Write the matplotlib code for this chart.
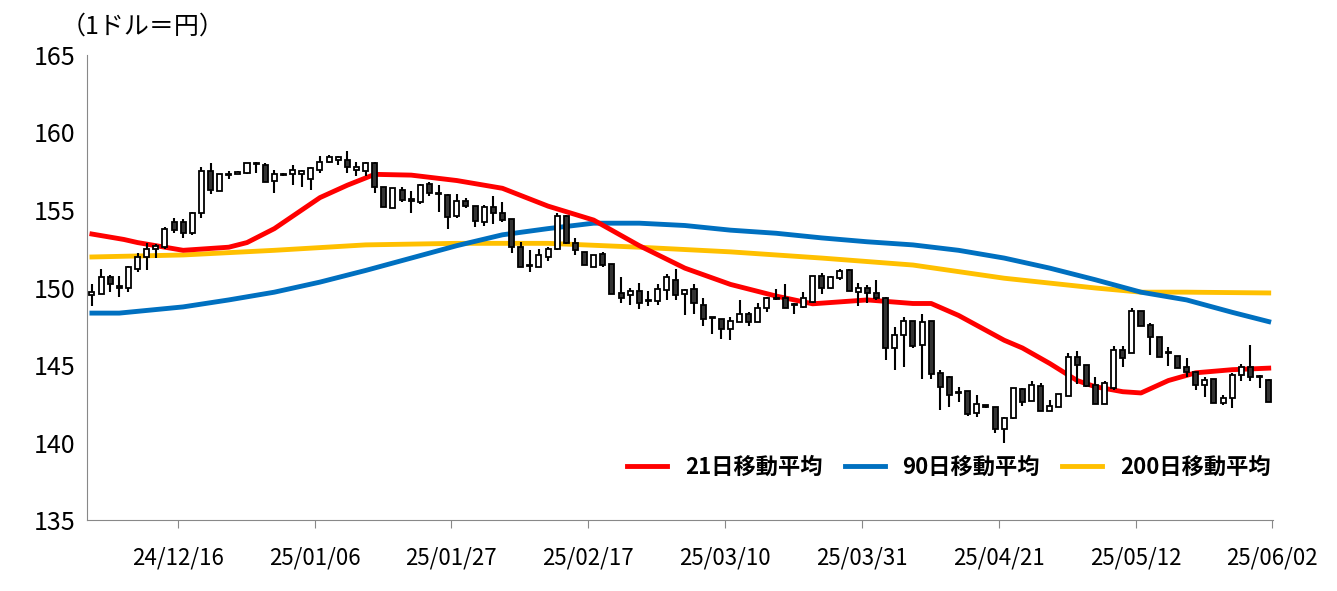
import matplotlib
matplotlib.use("Agg")
import matplotlib.pyplot as plt
import numpy as np
import pandas as pd

plt.rcParams['font.family'] = ['Noto Sans CJK JP', 'DejaVu Sans']

dates = pd.bdate_range("2024-12-03", "2025-06-02")
tick_labels = ["24/12/16", "25/01/06", "25/01/27", "25/02/17", "25/03/10",
               "25/03/31", "25/04/21", "25/05/12", "25/06/02"]

opens = [149.5,149.6,150.7,150.1,149.95,151.2,151.95,152.5,152.6,154.2,
         154.2,153.5,154.8,157.5,156.2,157.25,157.35,157.4,158.0,157.9,
         156.9,157.3,157.3,157.3,157.0,157.6,158.1,158.2,158.2,157.6,
         157.5,158.0,156.5,155.1,156.3,155.65,155.5,156.7,156.1,155.97,
         154.6,155.6,155.25,154.25,155.2,154.8,154.4,152.6,151.45,151.3,
         152.0,152.5,154.6,152.85,152.3,151.35,152.16,151.5,149.67,149.5,
         149.8,149.15,149.1,149.85,150.5,149.6,149.9,148.9,148.1,147.94,
         147.3,147.8,148.3,147.8,148.7,149.3,149.34,148.85,148.76,149.08,
         150.74,149.94,150.6,151.1,149.73,150.0,149.66,149.3,146.07,146.93,
         147.86,146.3,147.86,144.5,144.2,143.2,143.3,141.88,142.4,142.3,
         140.85,141.56,143.45,142.7,143.65,142.06,142.3,143.0,145.5,145.0,
         143.7,142.5,143.5,145.97,145.8,148.5,147.58,146.83,145.8,145.6,
         144.9,144.57,143.7,144.07,142.57,142.9,144.36,144.85,144.25,144.03]
closes = [149.7,150.7,150.2,150.0,151.3,152.0,152.5,152.7,153.8,153.7,
          153.5,154.8,157.5,156.3,157.3,157.3,157.45,158.0,157.95,156.8,
          157.3,157.25,157.6,157.5,157.7,158.1,158.4,158.4,157.8,157.8,
          158.0,156.5,155.2,156.4,155.65,155.6,156.6,156.1,156.0,154.57,
          155.6,155.25,154.3,155.2,154.8,154.35,152.6,151.35,151.4,152.1,
          152.5,154.6,152.85,152.4,151.45,152.1,151.45,149.6,149.3,149.8,
          149.0,149.1,149.9,150.7,149.5,149.85,149.0,148.0,148.05,147.3,
          147.85,148.3,147.8,148.7,149.3,149.25,148.7,148.9,149.34,150.74,
          149.94,150.7,151.08,149.8,149.94,149.66,149.3,146.07,146.93,147.86,
          146.22,147.8,144.42,143.6,143.06,143.25,141.84,142.5,142.3,140.9,
          141.6,143.5,142.6,143.7,142.06,142.36,143.13,145.5,145.0,143.65,
          142.5,143.86,145.97,145.43,148.5,147.5,146.83,145.54,145.75,144.8,
          144.57,143.7,144.03,142.57,142.9,144.36,144.85,144.2,144.2,142.64]
highs = [150.2,151.2,150.8,150.75,151.4,152.2,152.9,152.8,153.9,154.5,
         154.4,154.9,157.8,158.0,157.3,157.5,157.5,158.0,158.1,158.0,
         157.6,157.4,157.9,157.6,157.8,158.5,158.55,158.5,158.8,158.1,
         158.1,158.1,156.5,156.4,156.5,156.25,156.7,156.8,156.6,156.0,
         156.0,155.8,155.25,155.3,155.9,155.5,154.4,152.95,152.4,152.5,
         152.6,154.8,154.7,153.2,152.3,152.1,152.3,151.5,150.7,149.95,
         150.3,149.8,150.2,150.9,151.2,149.9,150.2,149.3,148.1,148.0,
         148.1,149.2,148.4,149.0,149.4,149.9,150.2,149.0,149.7,150.74,
         150.95,150.75,151.17,151.2,150.3,150.16,150.5,149.36,147.47,148.1,
         147.86,148.3,147.86,144.7,144.3,143.6,143.3,143.06,142.45,142.3,
         141.65,143.5,143.5,144.0,143.86,142.75,143.15,145.75,145.9,145.0,
         144.2,144.0,146.2,146.2,148.7,148.5,147.7,146.83,146.14,145.6,
         145.43,144.57,144.2,144.07,143.07,144.5,145.07,146.3,144.36,144.1]
lows = [148.8,149.6,149.7,149.4,149.7,151.0,151.1,151.9,152.5,153.5,
        153.2,153.4,154.5,156.0,156.2,157.0,157.3,157.3,157.4,156.8,
        156.1,157.2,156.6,156.5,156.3,157.4,158.0,157.9,157.4,157.2,
        157.2,156.1,155.2,155.1,155.5,154.83,155.4,155.9,154.9,153.8,
        154.5,155.1,153.9,154.0,154.1,154.2,152.2,151.35,151.0,151.3,
        151.7,152.4,152.8,152.1,151.45,151.3,151.35,149.6,149.0,148.9,
        148.6,148.8,148.9,149.2,149.2,148.2,148.3,147.5,147.0,146.7,
        146.6,147.8,147.5,147.8,148.4,149.2,148.65,148.3,148.65,149.0,
        149.6,149.9,150.5,149.8,148.8,149.0,149.2,145.3,144.67,144.9,
        146.07,144.07,144.07,142.1,142.3,142.6,141.7,141.67,142.25,140.59,
        139.95,141.5,142.36,142.7,142.06,142.06,142.3,143.0,143.8,143.6,
        142.5,142.5,143.4,144.9,145.8,147.5,145.65,145.54,144.94,144.8,
        144.25,143.4,142.96,142.57,142.4,142.2,144.0,144.0,143.5,142.64]

ma21_idx = [0,3.5,5,10,15,17,20,25,28,31,35,40,45,50,55,60,65,70,75,79,
            85,90,92,95,100,102,105,108,110,113,115,118,121,125,129]
ma21 = [153.45,153.1,152.9,152.4,152.6,152.9,153.8,155.8,156.6,157.3,157.25,
        156.9,156.4,155.25,154.35,152.7,151.25,150.2,149.45,148.95,149.2,
        148.97,148.97,148.2,146.6,146.1,145.1,144.0,143.6,143.28,143.2,144.0,
        144.5,144.7,144.8]
ma90_idx = [0,3,10,15,20,25,30,35,40,45,50,55,60,65,70,75,80,85,90,95,
            100,105,110,115,120,125,129]
ma90 = [148.35,148.35,148.75,149.2,149.7,150.35,151.1,151.9,152.7,153.4,
        153.8,154.15,154.15,154.0,153.7,153.5,153.2,152.95,152.75,152.4,
        151.9,151.25,150.5,149.7,149.2,148.4,147.8]
ma200_idx = [0,10,20,30,40,50,60,70,80,90,100,110,115,120,129]
ma200 = [151.97,152.1,152.4,152.75,152.85,152.85,152.6,152.3,151.9,151.45,
         150.6,149.97,149.7,149.7,149.65]

fig = plt.figure(figsize=(13.37, 5.91), dpi=100)
ax = fig.add_axes([0.065, 0.12, 0.887, 0.787])

x = np.arange(len(dates))
o = np.array(opens); c = np.array(closes)
h = np.array(highs); l = np.array(lows)
ax.vlines(x, l, h, color='black', lw=1.5, zorder=3)
up = c >= o
bot = np.minimum(o, c)
hgt = np.maximum(np.abs(c - o), 0.08)
ax.bar(x[up], hgt[up], bottom=bot[up], width=0.55, facecolor='white',
       edgecolor='black', lw=1.3, zorder=4)
ax.bar(x[~up], hgt[~up], bottom=bot[~up], width=0.55, facecolor='#333333',
       edgecolor='black', lw=1.3, zorder=4)

ax.plot(ma200_idx, ma200, color='#FFC000', lw=3.5, label='200日移動平均', zorder=2)
ax.plot(ma90_idx, ma90, color='#0070C0', lw=3.5, label='90日移動平均', zorder=2)
ax.plot(ma21_idx, ma21, color='#FF0000', lw=3.5, label='21日移動平均', zorder=2)

ax.set_xlim(-0.55, len(dates) - 0.55)
ax.set_ylim(135, 165)
ax.set_yticks(np.arange(135, 166, 5))
ax.tick_params(axis='y', length=0, labelsize=18, pad=8)
tick_pos = [list(dates.strftime("%y/%m/%d")).index(t) + 0.4 for t in tick_labels]
ax.set_xticks(tick_pos)
ax.set_xticklabels(tick_labels, fontsize=16)
ax.tick_params(axis='x', length=6, color='#888888', pad=13)
for s in ['top', 'right']:
    ax.spines[s].set_visible(False)
for s in ['left', 'bottom']:
    ax.spines[s].set_color('#888888')

handles, labels = ax.get_legend_handles_labels()
order = [2, 1, 0]
ax.legend([handles[i] for i in order], [labels[i] for i in order],
          ncol=3, loc='lower right', bbox_to_anchor=(1.015, 0.045),
          frameon=False, handlelength=1.8, columnspacing=1.0,
          prop={'weight': 'bold', 'size': 16})

fig.text(0.045, 0.955, '（1ドル＝円）', fontsize=18, ha='left', va='center')

fig.savefig("out.png", dpi=100)
